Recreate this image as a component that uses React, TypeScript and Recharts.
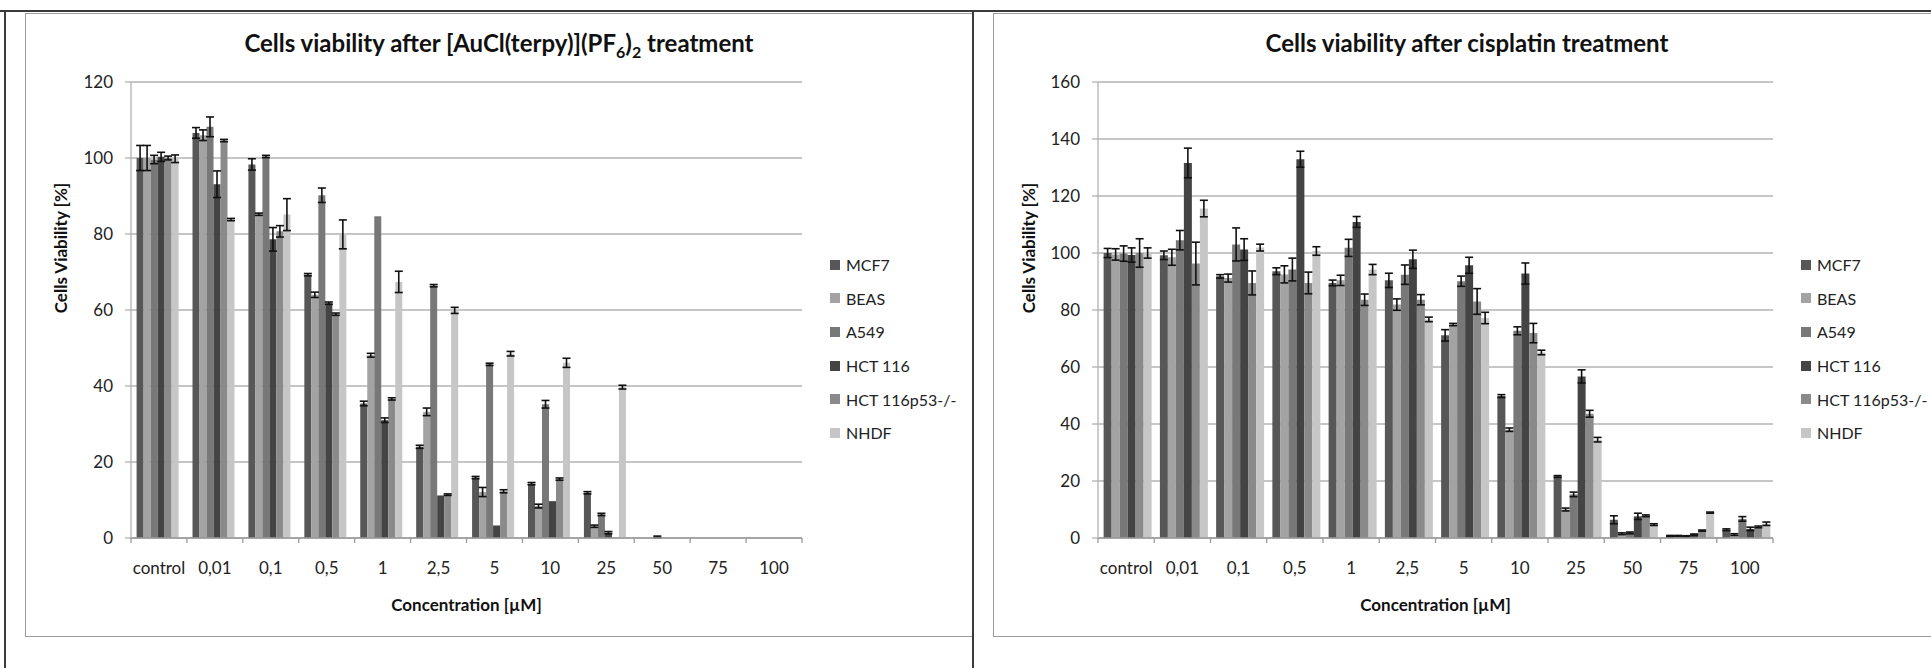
import React from 'react';
import { BarChart, Bar, XAxis, YAxis, CartesianGrid, ErrorBar } from 'recharts';

const FONT = 'Lato, "Open Sans", sans-serif';

const categories = ['control', '0,01', '0,1', '0,5', '1', '2,5', '5', '10', '25', '50', '75', '100'];
const seriesNames = ['MCF7', 'BEAS', 'A549', 'HCT 116', 'HCT 116p53-/-', 'NHDF'];
const seriesColors = ['#575757', '#a3a3a3', '#787878', '#444444', '#8a8a8a', '#c6c6c6'];

// [AuCl(terpy)](PF6)2
const mcf7Au = [100, 106.6, 98.3, 69.3, 35.4, 24.0, 15.9, 14.3, 11.9, 0, 0, 0];
const beasAu = [100, 106.0, 85.2, 64.0, 48.1, 33.2, 12.1, 8.4, 3.1, 0, 0, 0];
const a549Au = [99.6, 108.2, 100.4, 90.2, 84.7, 66.4, 45.7, 35.2, 6.2, 0.3, 0, 0];
const hct116Au = [100.3, 93.1, 78.6, 61.8, 31.0, 11.2, 3.3, 9.7, 1.4, 0, 0, 0];
const p53Au = [100, 104.6, 80.7, 58.9, 36.6, 11.4, 12.3, 15.5, 0, 0, 0, 0];
const nhdfAu = [99.8, 83.8, 85.1, 79.9, 67.4, 59.9, 48.5, 46.1, 39.7, 0, 0, 0];

const mcf7AuErr = [3.3, 1.4, 1.5, 0.3, 0.6, 0.4, 0.3, 0.3, 0.3, 0, 0, 0];
const beasAuErr = [3.3, 1.4, 0.3, 0.7, 0.5, 1.0, 1.2, 0.5, 0.3, 0, 0, 0];
const a549AuErr = [1.1, 2.6, 0.3, 1.9, 0, 0.3, 0.3, 1.0, 0.3, 0.2, 0, 0];
const hct116AuErr = [1.2, 3.5, 3.1, 0.3, 0.6, 0, 0, 0, 0.3, 0, 0, 0];
const p53AuErr = [0.5, 0.3, 1.5, 0.3, 0.3, 0.2, 0.4, 0.3, 0, 0, 0, 0];
const nhdfAuErr = [1.0, 0.3, 4.2, 3.8, 2.8, 0.8, 0.6, 1.2, 0.5, 0, 0, 0];

// cisplatin
const mcf7Cis = [100, 99.2, 91.8, 93.6, 89.5, 90.4, 71.1, 49.8, 21.6, 6.4, 0.7, 2.9];
const beasCis = [99.5, 98.5, 91.2, 92.5, 90.4, 81.9, 74.9, 38.0, 10.0, 1.5, 0.7, 1.2];
const a549Cis = [99.8, 104.5, 103.0, 94.2, 101.8, 92.4, 90.1, 72.7, 15.3, 1.8, 0.6, 6.7];
const hct116Cis = [99.3, 131.6, 101.2, 132.9, 110.9, 97.8, 95.7, 92.8, 56.7, 7.6, 1.2, 3.2];
const p53Cis = [100, 96.3, 89.5, 89.5, 83.6, 83.6, 83.0, 71.9, 43.6, 7.8, 2.6, 3.9];
const nhdfCis = [100, 115.6, 101.9, 100.7, 94.2, 76.7, 77.2, 65.1, 34.5, 4.7, 8.9, 5.0];

const mcf7CisErr = [1.6, 1.5, 0.6, 1.2, 1.0, 2.5, 2.0, 0.5, 0.3, 1.4, 0.2, 0.3];
const beasCisErr = [2.0, 2.8, 1.4, 3.0, 1.8, 2.0, 0.4, 0.6, 0.5, 0.3, 0.2, 0.3];
const a549CisErr = [2.7, 3.4, 5.8, 4.0, 3.0, 3.4, 1.8, 1.4, 0.8, 0.3, 0.2, 0.8];
const hct116CisErr = [2.5, 5.2, 3.8, 2.8, 1.9, 3.2, 2.8, 3.7, 2.3, 1.1, 0.2, 0.6];
const p53CisErr = [5.0, 7.5, 4.2, 3.8, 2.0, 1.8, 4.5, 3.4, 1.2, 0.3, 0.2, 0.3];
const nhdfCisErr = [1.8, 2.9, 1.2, 1.5, 1.8, 0.8, 2.0, 0.8, 0.8, 0.3, 0.2, 0.6];

const auTicks = [0, 20, 40, 60, 80, 100, 120];
const cisTicks = [0, 20, 40, 60, 80, 100, 120, 140, 160];

function buildRows(values: number[][], errors: number[][]) {
  return categories.map((name, i) => {
    const row: Record<string, string | number> = { name };
    values.forEach((v, s) => {
      row['s' + s] = v[i];
      row['e' + s] = errors[s][i];
    });
    return row;
  });
}

const auRows = buildRows(
  [mcf7Au, beasAu, a549Au, hct116Au, p53Au, nhdfAu],
  [mcf7AuErr, beasAuErr, a549AuErr, hct116AuErr, p53AuErr, nhdfAuErr]
);
const cisRows = buildRows(
  [mcf7Cis, beasCis, a549Cis, hct116Cis, p53Cis, nhdfCis],
  [mcf7CisErr, beasCisErr, a549CisErr, hct116CisErr, p53CisErr, nhdfCisErr]
);

const CHART_W = 948;
const CHART_H = 668;
const Y_AXIS_W = 60;

const CategoryTick = (props: any) => {
  const { x, y, payload, index, half, count } = props;
  return (
    <g>
      <line x1={x - half} y1={y} x2={x - half} y2={y + 5} stroke="#9a9a9a" strokeWidth={1.3} />
      {index === count - 1 && (
        <line x1={x + half} y1={y} x2={x + half} y2={y + 5} stroke="#9a9a9a" strokeWidth={1.3} />
      )}
      <text x={x} y={y + 36} textAnchor="middle" fill="#222" fontSize={17} fontFamily={FONT}>
        {payload.value}
      </text>
    </g>
  );
};

function Panel({ left, marginLeft, marginRight, yMax, yTicks, rows, title, legendLeft, width }: any) {
  const plotLeft = marginLeft + Y_AXIS_W;
  const plotWidth = CHART_W - plotLeft - marginRight;
  const half = plotWidth / categories.length / 2;
  return (
    <>
      <div
        style={{
          position: 'absolute',
          left,
          top: 13,
          width,
          height: 624,
          borderTop: '1.5px solid #9c9c9c',
          borderLeft: '1.5px solid #9c9c9c',
          borderBottom: '1.5px solid #9c9c9c',
          boxSizing: 'border-box',
        }}
      />
      <div
        style={{
          position: 'absolute',
          left,
          top: 27,
          width: CHART_W,
          textAlign: 'center',
          fontSize: 24,
          fontWeight: 700,
          color: '#111',
          lineHeight: '32px',
        }}
      >
        {title}
      </div>
      <div style={{ position: 'absolute', left, top: 0 }}>
        <BarChart
          width={CHART_W}
          height={CHART_H}
          data={rows}
          margin={{ top: 82, right: marginRight, left: marginLeft, bottom: 90 }}
          barCategoryGap="10%"
          barGap={0}
        >
          <CartesianGrid vertical={false} stroke="#8e8e8e" strokeWidth={1.2} />
          <XAxis
            dataKey="name"
            height={40}
            interval={0}
            tickLine={false}
            tickSize={0}
            tickMargin={0}
            axisLine={{ stroke: '#9a9a9a', strokeWidth: 1.3 }}
            tick={<CategoryTick half={half} count={categories.length} />}
          />
          <YAxis
            width={Y_AXIS_W}
            domain={[0, yMax]}
            ticks={yTicks}
            interval={0}
            tickSize={6}
            tickMargin={12}
            tickLine={{ stroke: '#9a9a9a' }}
            axisLine={{ stroke: '#bdbdbd', strokeWidth: 1.5 }}
            tick={{ fill: '#222', fontSize: 17, fontFamily: FONT }}
          />
          {seriesNames.map((n, s) => (
            <Bar key={n} dataKey={'s' + s} name={n} fill={seriesColors[s]} isAnimationActive={false}>
              <ErrorBar dataKey={'e' + s} width={4} stroke="#111" strokeWidth={1.6} direction="y" />
            </Bar>
          ))}
        </BarChart>
      </div>
      <div
        style={{
          position: 'absolute',
          left: left + 36 - 100,
          top: 248 - 12,
          width: 200,
          height: 24,
          lineHeight: '24px',
          textAlign: 'center',
          transform: 'rotate(-90deg)',
          fontSize: 17,
          fontWeight: 700,
          color: '#111',
        }}
      >
        Cells Viability [%]
      </div>
      <div
        style={{
          position: 'absolute',
          left: left + plotLeft,
          top: 593,
          width: plotWidth,
          lineHeight: '24px',
          textAlign: 'center',
          fontSize: 17,
          fontWeight: 700,
          color: '#111',
        }}
      >
        Concentration [µM]
      </div>
      <div style={{ position: 'absolute', left: left + legendLeft, top: 265 - 17 }}>
        {seriesNames.map((n, s) => (
          <div key={n} style={{ display: 'flex', alignItems: 'center', height: 33.6 }}>
            <div style={{ width: 10, height: 10, background: seriesColors[s], marginRight: 6 }} />
            <span style={{ fontSize: 16, color: '#222', whiteSpace: 'nowrap' }}>{n}</span>
          </div>
        ))}
      </div>
    </>
  );
}

export default function App() {
  return (
    <div
      style={{
        position: 'absolute',
        left: 0,
        top: 0,
        width: 1931,
        height: 668,
        background: '#fff',
        overflow: 'hidden',
        fontFamily: FONT,
      }}
    >
      <Panel
        left={25}
        width={948}
        marginLeft={46}
        marginRight={171}
        yMax={120}
        yTicks={auTicks}
        rows={auRows}
        legendLeft={805}
        title={
          <span>
            Cells viability after [AuCl(terpy)](PF<sub style={{ fontSize: 16 }}>6</sub>)
            <sub style={{ fontSize: 16 }}>2</sub> treatment
          </span>
        }
      />
      <Panel
        left={993}
        width={960}
        marginLeft={45}
        marginRight={168}
        yMax={160}
        yTicks={cisTicks}
        rows={cisRows}
        legendLeft={808}
        title={<span>Cells viability after cisplatin treatment</span>}
      />
      <div style={{ position: 'absolute', left: 0, top: 10, width: 1931, height: 2, background: '#3a3a3a' }} />
      <div style={{ position: 'absolute', left: 4, top: 10, width: 2, height: 658, background: '#3a3a3a' }} />
      <div style={{ position: 'absolute', left: 972, top: 10, width: 2, height: 658, background: '#3a3a3a' }} />
    </div>
  );
}
